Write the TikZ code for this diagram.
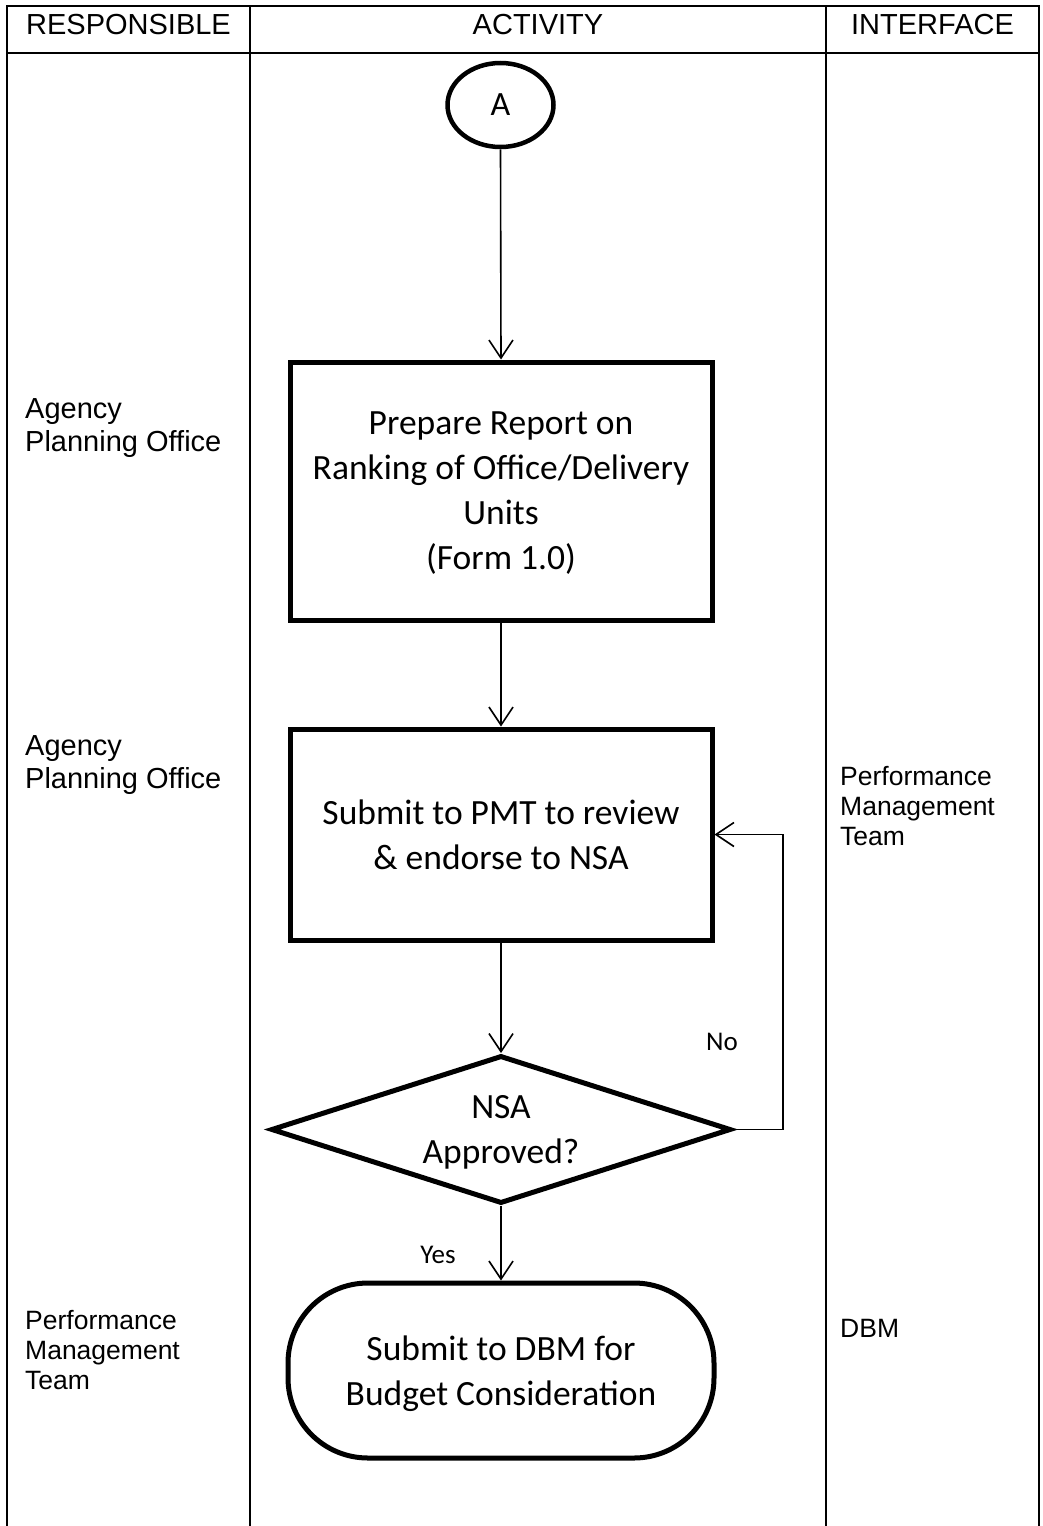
\documentclass[tikz,border=0pt]{standalone}
\usepackage{fontspec}
\setmainfont{Liberation Sans}
\newfontfamily\carlito{Carlito}
\usetikzlibrary{arrows.meta,shapes.geometric}

\begin{document}
\begin{tikzpicture}[x=1pt,y=-1pt,
  grid/.style={line width=2.5pt,line cap=rect},
  lanetext/.style={anchor=west,align=left,inner sep=0pt,
    font=\fontsize{29}{33}\selectfont},
  lanesmall/.style={anchor=west,align=left,inner sep=0pt,
    font=\fontsize{26.5}{30}\selectfont},
  headtext/.style={inner sep=0pt,font=\fontsize{29}{33}\selectfont},
  activity/.style={draw,line width=5pt,align=center,inner sep=0pt,
    text depth=0pt,font=\carlito\fontsize{35.5}{45}\selectfont},
  flow/.style={line width=1.6pt,-{Straight Barb[length=18pt,width=24pt,line width=1.6pt]}},
  flowlabel/.style={inner sep=0pt,font=\carlito\fontsize{27}{32}\selectfont}
]
\useasboundingbox (0,0) rectangle (1042,1526);

% table frame
\draw[grid] (7,6) -- (1039,6);
\draw[grid] (7,53) -- (1039,53);
\draw[grid] (7,6) -- (7,1530);
\draw[grid] (250,6) -- (250,1530);
\draw[grid] (826,6) -- (826,1530);
\draw[grid] (1039,6) -- (1039,1530);

% column headings
\node[headtext] (hresp) at (128.5,25) {RESPONSIBLE};
\node[headtext] (hact) at (538,25) {ACTIVITY};
\node[headtext] (hint) at (932.5,25) {INTERFACE};

% responsible column
\node[lanetext] (r1) at (25,428) {Agency\\Planning Office};
\node[lanetext] (r2) at (25,765) {Agency\\Planning Office};
\node[lanesmall] (r3) at (25,1350) {Performance\\Management\\Team};

% interface column
\node[lanesmall] (i2) at (840,806.5) {Performance\\Management\\Team};
\node[lanesmall] (i3) at (840,1328) {DBM};

% activity column
\node[ellipse,draw,line width=4.5pt,minimum width=106pt,minimum height=84pt,
  inner sep=0pt,font=\carlito\fontsize{34}{40}\selectfont] (conn) at (500.5,105) {A};

\node[activity,minimum width=422pt,minimum height=258pt] (prep) at (501,491)
  {Prepare Report on\\Ranking of Office/Delivery\\Units\\(Form 1.0)};

\node[activity,minimum width=422pt,minimum height=211pt] (submit) at (501,834.5)
  {Submit to PMT to review\\\& endorse to NSA};

\node[activity,diamond,aspect=3.1,minimum width=460pt,minimum height=148pt] (nsa)
  at (501,1129.5) {NSA\\Approved?};

\node[activity,rounded corners=80pt,minimum width=426pt,minimum height=175pt] (dbm)
  at (501,1370.5) {Submit to DBM for\\Budget Consideration};

% connectors
\draw[flow] (conn.south) -- (prep.north);
\draw[flow] (prep.south) -- (submit.north);
\draw[flow] (submit.south) -- (nsa.north);
\coordinate (loop) at (783,1129.5);
\draw[flow] (nsa.east) -- (loop) |- (submit.east);
\draw[flow] (nsa.south) -- (dbm.north);

\node[flowlabel] (no) at (722,1042) {No};
\node[flowlabel] (yes) at (438,1255) {Yes};
\end{tikzpicture}
\end{document}
